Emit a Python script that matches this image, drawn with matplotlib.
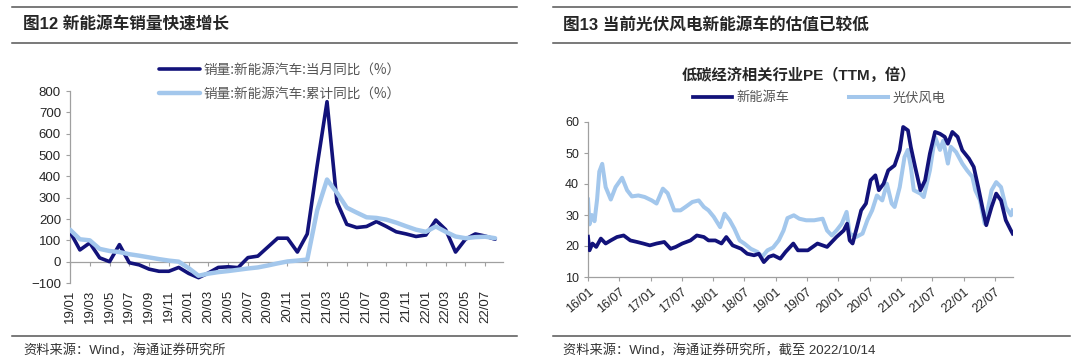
import matplotlib
matplotlib.use("Agg")
from matplotlib import pyplot as plt
import matplotlib.dates as mdates
import pandas as pd
import numpy as np

plt.rcParams['font.family'] = ['Noto Sans CJK SC', 'DejaVu Sans']

# ---- left panel data: monthly yoy, 2019/01 - 2022/08
months = pd.date_range('2019-01-01', '2022-08-01', freq='MS')
month_labels = [d.strftime('%y/%m') for d in months]
yoy_month = [140, 55, 88, 18, 0, 80, -5, -15, -35, -45, -45, -27,
             -55, -75, -53, -27, -24, -28, 19, 26, 68, 110, 110, 45,
             130, 450, 750, 280, 175, 160, 165, 188, 165, 140, 130, 118,
             125, 195, 150, 45, 105, 130, 120, 105]
yoy_cum = [150, 105, 100, 60, 50, 45, 35, 28, 20, 12, 5, 0,
           -30, -66, -56, -49, -44, -38, -32, -27, -18, -8, 1, 5,
           10, 240, 385, 323, 253, 230, 208, 205, 197, 183, 166, 150,
           140, 165, 140, 118, 110, 115, 117, 110]

# ---- right panel data: PE (TTM)
pe_pv_dates = ['2016-01-01', '2016-01-10', '2016-01-23', '2016-02-08', '2016-02-23', '2016-03-07',
               '2016-03-24', '2016-04-13', '2016-05-13', '2016-06-10', '2016-07-18', '2016-08-16',
               '2016-09-13', '2016-10-21', '2016-11-27', '2017-01-07', '2017-02-04', '2017-03-13',
               '2017-04-10', '2017-05-18', '2017-06-24', '2017-07-23', '2017-09-01', '2017-10-08',
               '2017-11-07', '2017-12-04', '2018-01-04', '2018-02-10', '2018-03-08', '2018-04-07',
               '2018-05-04', '2018-06-04', '2018-07-01', '2018-08-08', '2018-09-15', '2018-10-13',
               '2018-11-13', '2018-12-16', '2019-01-18', '2019-02-15', '2019-03-10', '2019-04-16',
               '2019-05-18', '2019-06-27', '2019-08-13', '2019-10-01', '2019-10-27', '2019-11-24',
               '2019-12-21', '2020-01-21', '2020-02-18', '2020-03-07', '2020-04-13', '2020-05-21',
               '2020-06-18', '2020-07-16', '2020-08-13', '2020-09-13', '2020-10-10', '2020-11-07',
               '2020-11-24', '2020-12-24', '2021-01-21', '2021-02-09', '2021-02-27', '2021-03-16',
               '2021-04-24', '2021-05-13', '2021-06-18', '2021-07-18', '2021-08-16', '2021-09-04',
               '2021-10-01', '2021-10-18', '2021-11-18', '2021-12-24', '2022-01-21', '2022-02-21',
               '2022-03-10', '2022-04-07', '2022-05-04', '2022-05-21', '2022-06-13', '2022-07-10',
               '2022-08-07', '2022-09-04', '2022-10-04', '2022-10-14']
pe_pv = [35, 27, 30, 28, 35, 44,
         46.5, 39, 35, 39, 42, 38,
         36, 36.3, 35.8, 34.7, 33.7, 38.5,
         37, 31.5, 31.5, 32.6, 34.2, 34.7,
         32.6, 31.5, 29.4, 26.1, 30.4, 28.3,
         25.6, 21.8, 20.8, 19.1, 18.1, 16.5,
         18.6, 19.5, 21.8, 25, 29, 29.9,
         28.8, 28.3, 28.3, 28.8, 25, 23.4,
         25, 27.2, 31, 24, 22.9, 24,
         28.3, 31.5, 36.3, 34.7, 40.1, 33.7,
         32.6, 39, 48.7, 51, 45.5, 38,
         36.9, 35.8, 44.4, 55.2, 51, 54,
         46.6, 52, 50.3, 46.6, 44.4, 42.3,
         38, 34.7, 27.2, 31.5, 38, 40.6,
         39, 32.6, 29.9, 31.5]

pe_nev_dates = ['2016-01-01', '2016-01-10', '2016-01-27', '2016-02-18', '2016-03-16', '2016-04-13',
                '2016-05-13', '2016-06-18', '2016-07-27', '2016-09-04', '2016-10-13', '2016-11-18',
                '2016-12-27', '2017-02-04', '2017-03-21', '2017-04-27', '2017-05-27', '2017-07-04',
                '2017-08-21', '2017-09-27', '2017-11-07', '2017-12-04', '2018-01-13', '2018-02-18',
                '2018-03-18', '2018-04-24', '2018-06-13', '2018-07-18', '2018-08-27', '2018-09-24',
                '2018-10-23', '2018-11-21', '2018-12-18', '2019-01-27', '2019-02-27', '2019-04-13',
                '2019-05-10', '2019-07-07', '2019-09-01', '2019-10-27', '2019-12-21', '2020-02-01',
                '2020-02-21', '2020-03-07', '2020-03-24', '2020-04-18', '2020-05-13', '2020-06-10',
                '2020-07-07', '2020-08-04', '2020-08-24', '2020-09-21', '2020-10-18', '2020-11-24',
                '2020-12-24', '2021-01-13', '2021-02-10', '2021-02-27', '2021-03-24', '2021-04-24',
                '2021-05-21', '2021-06-18', '2021-07-18', '2021-08-16', '2021-09-13', '2021-10-01',
                '2021-10-27', '2021-11-27', '2021-12-24', '2022-02-01', '2022-03-01', '2022-03-27',
                '2022-04-24', '2022-05-13', '2022-06-13', '2022-07-10', '2022-08-07', '2022-09-04',
                '2022-10-04', '2022-10-14']
pe_nev = [23, 18.6, 20.8, 19.7, 22.4, 20.8,
          21.8, 22.9, 23.4, 21.8, 21.3, 20.8,
          20.2, 20.8, 21.3, 19.1, 19.7, 20.8,
          21.8, 23.4, 22.9, 21.8, 21.8, 20.8,
          22.9, 20.2, 19.1, 17.5, 17, 17.5,
          14.8, 16.5, 17, 15.9, 18.1, 20.8,
          18.6, 18.6, 20.8, 19.7, 22.9, 25,
          27.2, 21.8, 20.8, 26, 31.5, 33.7,
          41.2, 42.8, 38, 40.1, 44.4, 46,
          50.9, 58.4, 57.3, 51.9, 45.5, 38,
          41.2, 49.8, 56.8, 56.2, 55.2, 53,
          56.8, 55.2, 50.9, 48.2, 45.5, 39,
          31.5, 26.7, 32.6, 36.9, 34.7, 28.3,
          25, 24]

DARK = '#12127a'
LIGHT = '#a3c7ec'
GRID = '#a0a0a0'
TXT = '#262626'
LEG = '#555555'
NUM = ['Liberation Sans', 'Noto Sans CJK SC']

fig = plt.figure(figsize=(10.8, 3.6), dpi=100)

# header / footer rules and captions
for x0, x1 in [(12, 517), (553, 1070)]:
    for yy in [7, 43, 336]:
        fig.add_artist(plt.Line2D([x0 / 1080, x1 / 1080], [1 - yy / 360] * 2,
                                  color='#555555', lw=1.1))
fig.text(23 / 1080, 1 - 25 / 360, '图12 新能源车销量快速增长', fontsize=12, fontweight='bold',
         color=TXT, va='center', family=NUM)
fig.text(563 / 1080, 1 - 25 / 360, '图13 当前光伏风电新能源车的估值已较低', fontsize=12,
         fontweight='bold', color=TXT, va='center', family=NUM)
fig.text(23 / 1080, 1 - 351 / 360, '资料来源：Wind，海通证券研究所', fontsize=9.5,
         color='#333333', va='center', family=NUM)
fig.text(563 / 1080, 1 - 351 / 360, '资料来源：Wind，海通证券研究所，截至 2022/10/14', fontsize=9.5,
         color='#333333', va='center', family=NUM)

# ---- left chart
ax = fig.add_axes([70 / 1080, 1 - 283 / 360, 433 / 1080, 192 / 360])
for s in ['top', 'right']:
    ax.spines[s].set_visible(False)
ax.spines['bottom'].set_position(('data', 0))
x = np.arange(len(months))
ax.plot(x, yoy_month, color=DARK, lw=2.6, solid_capstyle='round', solid_joinstyle='round',
        label='销量:新能源汽车:当月同比（%）', zorder=3)
ax.plot(x, yoy_cum, color=LIGHT, lw=3.2, solid_capstyle='round', solid_joinstyle='round',
        label='销量:新能源汽车:累计同比（%）', zorder=4)
ax.set_ylim(-100, 800)
ax.set_yticks(range(-100, 801, 100))
ax.set_xlim(0, 43.8)
ax.set_xticks(x[::2])
ax.set_xticklabels(month_labels[::2])
for s in ['left', 'bottom']:
    ax.spines[s].set_color(GRID)
    ax.spines[s].set_linewidth(0.9)
ax.tick_params(axis='x', direction='out', length=3, color=GRID, pad=17, labelsize=9.5,
               labelcolor=TXT, labelrotation=90)
ax.tick_params(axis='y', direction='out', length=3, color=GRID, labelsize=9.5, labelcolor=TXT)
for lab in ax.get_xticklabels() + ax.get_yticklabels():
    lab.set_family('Liberation Sans')
leg = ax.legend(loc='upper left', bbox_to_anchor=(152 / 1080, 1 - 56 / 360),
                bbox_transform=fig.transFigure, frameon=False, fontsize=9.8,
                handlelength=3.0, labelspacing=0.7, handletextpad=0.3, borderpad=0)
for t in leg.get_texts():
    t.set_color(LEG)
leg.get_lines()[0].set_linewidth(2.6)
leg.get_lines()[1].set_linewidth(3.2)

# ---- right chart
ax2 = fig.add_axes([588 / 1080, 1 - 277 / 360, 425 / 1080, 155 / 360])
ax2.plot(pd.to_datetime(pe_nev_dates), pe_nev, color=DARK, lw=2.7, label='新能源车',
         solid_joinstyle='round', zorder=3)
ax2.plot(pd.to_datetime(pe_pv_dates), pe_pv, color=LIGHT, lw=2.9, label='光伏风电',
         solid_joinstyle='round', zorder=2)
ax2.set_ylim(10, 60)
ax2.set_yticks(range(10, 61, 10))
ax2.set_xlim(pd.Timestamp('2016-01-01'), pd.Timestamp('2022-10-16'))
ax2.xaxis.set_major_locator(mdates.MonthLocator(bymonth=[1, 7]))
ax2.xaxis.set_major_formatter(mdates.DateFormatter('%y/%m'))
for s in ['top', 'right']:
    ax2.spines[s].set_visible(False)
for s in ['left', 'bottom']:
    ax2.spines[s].set_color(GRID)
    ax2.spines[s].set_linewidth(0.9)
ax2.tick_params(axis='both', direction='out', length=3, color=GRID, labelsize=9,
                labelcolor=TXT)
for lab in ax2.get_xticklabels():
    lab.set_rotation(40)
    lab.set_ha('right')
    lab.set_rotation_mode('anchor')
for lab in ax2.get_xticklabels() + ax2.get_yticklabels():
    lab.set_family('Liberation Sans')
fig.text(799 / 1080, 1 - 75 / 360, '低碳经济相关行业PE（TTM，倍）', fontsize=11, fontweight='bold',
         color=TXT, ha='center', va='center', family=NUM)
leg2 = ax2.legend(loc='center left', bbox_to_anchor=(686 / 1080, 1 - 98 / 360),
                  bbox_transform=fig.transFigure, frameon=False, fontsize=9.5, ncol=2,
                  handlelength=3.0, handletextpad=0.3, columnspacing=4.5, borderpad=0)
for t in leg2.get_texts():
    t.set_color(LEG)

plt.savefig('out.png', dpi=100)
